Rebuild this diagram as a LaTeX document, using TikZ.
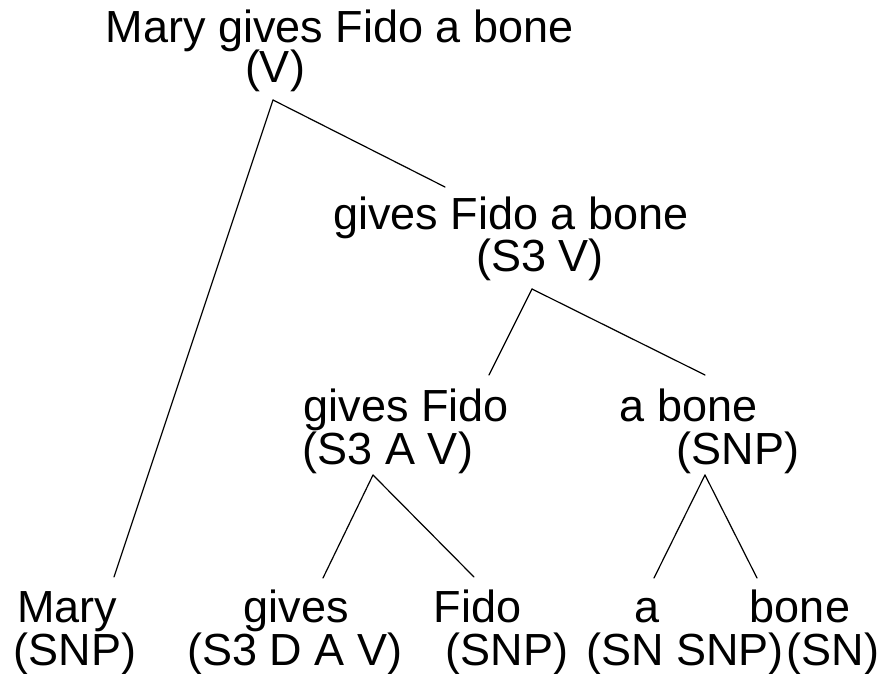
\documentclass[tikz,border=0pt]{standalone}
\usepackage{fontspec}
\setmainfont{Liberation Sans}
\usetikzlibrary{positioning, calc}

\begin{document}
\begin{tikzpicture}[
        word/.style={anchor=base, inner sep=0pt, font=\fontsize{22.5pt}{26pt}\selectfont},
        branch/.style={black, line width=0.6pt, line cap=round}
    ]
            \def\pix{0.5pt}

            \useasboundingbox (0mm, 0mm) rectangle (890*\pix, -674*\pix);

            % text lines of the tree: name/x/baseline/text
            \foreach \name/\x/\y/\txt in {
                    root/339.5/43/Mary gives Fido a bone, root-cat/275/83/(V),
                    gfab/511/230/gives Fido a bone, gfab-cat/540/271/(S3 V),
                    gf/406.5/421/gives Fido, gf-cat/388/464/(S3 A V),
                    ab/688.5/421/a bone, ab-cat/738/464/(SNP),
                    mary/67/622/Mary, mary-cat/75/665/(SNP),
                    gives/296.5/622/gives, gives-cat/295/665/(S3 D A V),
                    fido/477.5/622/Fido, fido-cat/507/665/(SNP),
                    a/647.5/622/a, a-cat/685/665/(SN SNP),
                    bone/800/622/bone, bone-cat/833/665/(SN)}
            {
                \node[word] (\name) at (\x*\pix, -\y*\pix) {\txt};
            }

            % branch tips below the categories
            \coordinate (root-tip) at (273*\pix, -100*\pix);
            \coordinate (gfab-tip) at (532*\pix, -289*\pix);
            \coordinate (gf-tip)   at (373*\pix, -475*\pix);
            \coordinate (ab-tip)   at (705*\pix, -475*\pix);

            % branch ends above the daughters
            \coordinate (mary-top)  at (114*\pix, -577*\pix);
            \coordinate (gfab-top)  at (445*\pix, -187*\pix);
            \coordinate (gf-top)    at (489*\pix, -375*\pix);
            \coordinate (ab-top)    at (705*\pix, -375*\pix);
            \coordinate (gives-top) at (323*\pix, -578*\pix);
            \coordinate (fido-top)  at (474*\pix, -577*\pix);
            \coordinate (a-top)     at (654*\pix, -578*\pix);
            \coordinate (bone-top)  at (757*\pix, -578*\pix);

            % branches
            \foreach \from/\to in {root/mary, root/gfab, gfab/gf, gfab/ab,
                                   gf/gives, gf/fido, ab/a, ab/bone}
            {
                \draw[branch] (\from-tip) -- (\to-top);
            }
\end{tikzpicture}
\end{document}
